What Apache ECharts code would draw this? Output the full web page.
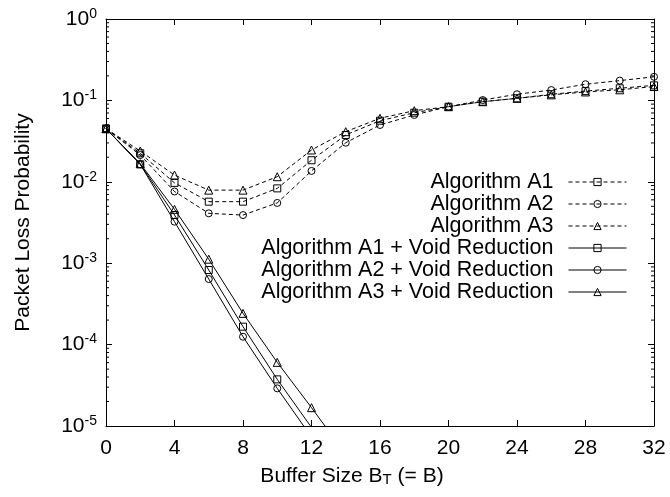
<!DOCTYPE html>
<html>
<head>
<meta charset="utf-8">
<script src="https://cdn.jsdelivr.net/npm/echarts@6/dist/echarts.min.js"></script>
<style>
html,body{margin:0;padding:0;background:#fff;}
#chart{width:670px;height:497px;}
</style>
</head>
<body>
<div id="chart"></div>
<script>
// ---- data ----
const bufferSizes = [0, 2, 4, 6, 8, 10, 12, 14, 16, 18, 20, 22, 24, 26, 28, 30, 32];
const algA1 = [0.045, 0.0224, 0.0097, 0.0057, 0.0057, 0.0083, 0.0184, 0.0376, 0.0563, 0.0706, 0.0837, 0.0964, 0.106, 0.119, 0.130, 0.141, 0.153];
const algA2 = [0.045, 0.0213, 0.0076, 0.0041, 0.0039, 0.0055, 0.0136, 0.0302, 0.0499, 0.0662, 0.0837, 0.101, 0.119, 0.134, 0.158, 0.175, 0.195];
const algA3 = [0.045, 0.0239, 0.0121, 0.0079, 0.0079, 0.01155, 0.0246, 0.0413, 0.0603, 0.0748, 0.0837, 0.0964, 0.106, 0.117, 0.127, 0.135, 0.148];
const voidBuffer = [0, 2, 4, 6, 8, 10, 12, 14];
const vrA1 = [0.045, 0.0164, 0.00391, 0.000824, 0.000166, 0.0000374, 0.0000096];
const vrA2 = [0.045, 0.0164, 0.00324, 0.000639, 0.000125, 0.000029, 0.0000073];
const vrA3 = [0.045, 0.0167, 0.00459, 0.00112, 0.000242, 0.0000605, 0.0000168, 0.0000045];
const seriesNames = ['Algorithm A1', 'Algorithm A2', 'Algorithm A3',
  'Algorithm A1 + Void Reduction', 'Algorithm A2 + Void Reduction', 'Algorithm A3 + Void Reduction'];
const xTicks = [0, 4, 8, 12, 16, 20, 24, 28, 32];
const yDecades = [-5, -4, -3, -2, -1, 0];
const xLabel = 'Buffer Size B';
const xLabelSub = 'T';
const xLabelTail = ' (= B)';
const yLabel = 'Packet Loss Probability';

// minor tick values (2..9 x 10^k)
const minorTicks = [];
for (let k = -5; k < 0; k++) for (let m = 2; m <= 9; m++) minorTicks.push(m * Math.pow(10, k));

const FONT = '"Liberation Sans", Arial, Helvetica, sans-serif';
const zip = (xs, ys) => ys.map((y, i) => [xs[i], y]);

function mkSeries(name, xs, ys, symbol, size, dashed) {
  return {
    name: name, type: 'line', data: zip(xs, ys),
    symbol: symbol, symbolSize: size, showSymbol: true, showAllSymbol: true,
    clip: true, animation: false,
    lineStyle: { color: '#000', width: 1, type: dashed ? [4, 3] : 'solid' },
    itemStyle: { color: 'rgba(0,0,0,0)', borderColor: '#000', borderWidth: 1 },
    emphasis: { disabled: true }
  };
}

const chart = echarts.init(document.getElementById('chart'), null, { renderer: 'canvas' });
const GL = 106, GR = 16, GT = 19, GB = 71;

chart.setOption({
  animation: false,
  backgroundColor: '#fff',
  textStyle: { fontFamily: FONT },
  grid: { left: GL, right: GR, top: GT, bottom: GB, containLabel: false },
  legend: {
    data: seriesNames,
    orient: 'vertical', align: 'right',
    right: 43, top: 171, padding: 0, itemGap: 0,
    itemWidth: 58, itemHeight: 9,
    itemStyle: { color: 'rgba(0,0,0,0)', borderColor: '#000', borderWidth: 1 },
    lineStyle: { width: 1, color: '#000' },
    textStyle: { fontFamily: FONT, fontSize: 21.5, color: '#000', lineHeight: 21.6, padding: [0, 10, 0, 0] },
    selectedMode: false
  },
  xAxis: [{
    type: 'value', min: 0, max: 32, interval: 4, position: 'bottom',
    name: '{a|' + xLabel + '}{s|' + xLabelSub + '}{a|' + xLabelTail + '}',
    nameLocation: 'middle', nameGap: 39,
    nameTextStyle: {
      padding: [0, 56, 0, 0],
      rich: {
        a: { fontFamily: FONT, fontSize: 21, color: '#000' },
        s: { fontFamily: FONT, fontSize: 15, color: '#000', padding: [7, 0, 0, 0] }
      }
    },
    axisLine: { show: true, onZero: false, lineStyle: { color: '#000', width: 1 } },
    axisTick: { show: true, inside: true, length: 6, lineStyle: { color: '#000' } },
    axisLabel: { show: true, margin: 12, fontFamily: FONT, fontSize: 21, color: '#000',
      formatter: v => xTicks.indexOf(v) >= 0 ? String(v) : '' },
    splitLine: { show: false }
  }, {
    type: 'value', min: 0, max: 32, interval: 4, position: 'top',
    axisLine: { show: true, onZero: false, lineStyle: { color: '#000', width: 1 } },
    axisTick: { show: true, inside: true, length: 6, lineStyle: { color: '#000' } },
    axisLabel: { show: false }, splitLine: { show: false }
  }],
  yAxis: [{
    type: 'log', logBase: 10, min: 1e-5, max: 1, position: 'left',
    name: yLabel, nameLocation: 'middle', nameGap: 72,
    nameTextStyle: { fontFamily: FONT, fontSize: 21, color: '#000' },
    axisLine: { show: true, onZero: false, lineStyle: { color: '#000', width: 1 } },
    axisTick: { show: true, inside: true, length: 6, lineStyle: { color: '#000' } },
    axisLabel: {
      show: true, margin: 9, color: '#000',
      formatter: v => {
        const e = Math.round(Math.log10(v));
        return yDecades.indexOf(e) >= 0 ? '{b|10}{e|' + e + '}' : '';
      },
      rich: {
        b: { fontFamily: FONT, fontSize: 21, color: '#000' },
        e: { fontFamily: FONT, fontSize: 14, color: '#000', padding: [0, 0, 10, 0] }
      }
    },
    splitLine: { show: false }
  }, {
    type: 'log', logBase: 10, min: 1e-5, max: 1, position: 'right',
    axisLine: { show: true, onZero: false, lineStyle: { color: '#000', width: 1 } },
    axisTick: { show: true, inside: true, length: 6, lineStyle: { color: '#000' } },
    axisLabel: { show: false }, splitLine: { show: false }
  }],
  series: [
    mkSeries(seriesNames[0], bufferSizes, algA1, 'rect', 7, true),
    mkSeries(seriesNames[1], bufferSizes, algA2, 'circle', 7, true),
    mkSeries(seriesNames[2], bufferSizes, algA3, 'triangle', 8, true),
    mkSeries(seriesNames[3], voidBuffer, vrA1, 'rect', 7, false),
    mkSeries(seriesNames[4], voidBuffer, vrA2, 'circle', 7, false),
    mkSeries(seriesNames[5], voidBuffer, vrA3, 'triangle', 8, false),
    {
      type: 'custom', name: 'minorTicks', silent: true, animation: false,
      data: minorTicks.map(v => [0, v]),
      clip: false,
      renderItem: function (params, api) {
        const v = api.value(1);
        const pl = api.coord([0, v]);
        const pr = api.coord([32, v]);
        return {
          type: 'group', children: [
            { type: 'line', shape: { x1: pl[0], y1: pl[1], x2: pl[0] + 3, y2: pl[1] }, style: { stroke: '#000', lineWidth: 1 } },
            { type: 'line', shape: { x1: pr[0], y1: pr[1], x2: pr[0] - 3, y2: pr[1] }, style: { stroke: '#000', lineWidth: 1 } }
          ]
        };
      }
    }
  ]
});
</script>
</body>
</html>
